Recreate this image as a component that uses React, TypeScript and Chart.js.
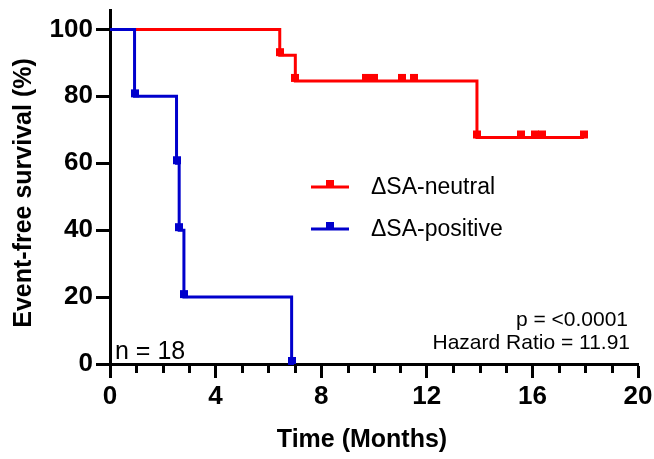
import React, { useEffect, useRef } from "react";
import { Chart, registerables } from "chart.js";

Chart.register(...registerables);

// ---- data ----
const neutralTimes = [0, 6.43, 7.02, 9.7, 10.0, 11.07, 11.5, 13.9, 15.55, 16.1, 16.35, 17.95];
const neutralSurvival = [100, 92.3, 84.6, 84.6, 84.6, 84.6, 84.6, 67.7, 67.7, 67.7, 67.7, 67.7];
const positiveTimes = [0, 0.93, 2.52, 2.62, 2.8, 6.88];
const positiveSurvival = [100, 80, 60, 40, 20, 0];
const seriesLabels = ["\u0394SA-neutral", "\u0394SA-positive"];
const seriesColors = ["#FF0000", "#0000CC"];
const xTickValues = [0, 4, 8, 12, 16, 20];
const yTickValues = [0, 20, 40, 60, 80, 100];
const minorTickMonths = [1, 2, 3, 5, 6, 7, 9, 10, 11, 13, 14, 15, 17, 18, 19];
const xTitle = "Time (Months)";
const yTitle = "Event-free survival (%)";
const statLines = ["p = <0.0001", "Hazard Ratio = 11.91"];
const sampleNote = "n = 18";

const FONT = "'Liberation Sans', Arial, Helvetica, sans-serif";

function makeMarker(color: string): HTMLCanvasElement {
  const c = document.createElement("canvas");
  c.width = 8;
  c.height = 16;
  const g = c.getContext("2d")!;
  g.fillStyle = color;
  g.fillRect(0, 1, 8, 8);
  return c;
}

export default function App() {
  const ref = useRef<HTMLCanvasElement | null>(null);

  useEffect(() => {
    if (!ref.current) return;
    const markers = seriesColors.map(makeMarker);

    const overlay = {
      id: "overlay",
      afterDatasetsDraw(chart: any) {
        const ctx = chart.ctx as CanvasRenderingContext2D;
        const xs = chart.scales.x;
        const bottom = chart.chartArea.bottom;
        ctx.save();
        // minor ticks
        ctx.strokeStyle = "#000";
        ctx.lineWidth = 3;
        minorTickMonths.forEach((m) => {
          const px = Math.round(xs.getPixelForValue(m)) + 0.5;
          ctx.beginPath();
          ctx.moveTo(px, bottom);
          ctx.lineTo(px, bottom + 9);
          ctx.stroke();
        });
        // x title
        ctx.fillStyle = "#000";
        ctx.font = `bold 25px ${FONT}`;
        ctx.textAlign = "center";
        ctx.textBaseline = "middle";
        ctx.fillText(xTitle, 362, 440);
        // y title
        ctx.save();
        ctx.translate(24, (chart.chartArea.top + bottom) / 2 + 6);
        ctx.rotate(-Math.PI / 2);
        ctx.font = `bold 25px ${FONT}`;
        ctx.fillText(yTitle, 0, 0);
        ctx.restore();
        // legend
        seriesLabels.forEach((label, i) => {
          const y = 187 + i * 42;
          ctx.strokeStyle = seriesColors[i];
          ctx.lineWidth = 3;
          ctx.beginPath();
          ctx.moveTo(311, y);
          ctx.lineTo(349, y);
          ctx.stroke();
          ctx.drawImage(markers[i], 330 - 4, y - 8);
          ctx.fillStyle = "#000";
          ctx.font = `23px ${FONT}`;
          ctx.textAlign = "left";
          ctx.textBaseline = "middle";
          ctx.fillText(label, 371, y + 1);
        });
        // stats
        ctx.fillStyle = "#000";
        ctx.font = `21px ${FONT}`;
        ctx.textAlign = "right";
        ctx.textBaseline = "middle";
        ctx.fillText(statLines[0], 628, 320);
        ctx.fillText(statLines[1], 630, 343);
        ctx.font = `25px ${FONT}`;
        ctx.textAlign = "left";
        ctx.textBaseline = "alphabetic";
        ctx.fillText(sampleNote, 115, 359);
        ctx.restore();
      },
    };

    const mk = (times: number[], surv: number[], i: number, order: number) => ({
      label: seriesLabels[i],
      data: times.map((t, k) => ({ x: t, y: surv[k] })),
      borderColor: seriesColors[i],
      backgroundColor: seriesColors[i],
      borderWidth: 3,
      stepped: "before" as const,
      tension: 0,
      fill: false,
      order,
      clip: 12,
      pointStyle: markers[i],
      pointRadius: (c: any) => (c.dataIndex === 0 ? 0 : 4),
      pointHoverRadius: 0,
    });

    const chart = new Chart(ref.current, {
      type: "line",
      data: {
        datasets: [
          mk(neutralTimes, neutralSurvival, 0, 2),
          mk(positiveTimes, positiveSurvival, 1, 1),
        ] as any,
      },
      options: {
        animation: false,
        responsive: false,
        devicePixelRatio: 1,
        layout: { padding: { top: 10, right: 16, left: 0, bottom: 0 } },
        plugins: { legend: { display: false }, tooltip: { enabled: false } },
        scales: {
          x: {
            type: "linear",
            min: 0,
            max: 20,
            afterBuildTicks: (s: any) => {
              s.ticks = xTickValues.map((v) => ({ value: v }));
            },
            afterFit: (s: any) => {
              s.height = 95;
              s.paddingLeft = 0;
              s.paddingRight = 0;
            },
            grid: { drawOnChartArea: false, drawTicks: true, tickLength: 14, tickWidth: 3, tickColor: "#000" },
            border: { display: true, width: 3, color: "#000" },
            ticks: { color: "#000", font: { family: FONT, size: 26, weight: "bold" }, padding: 3, maxRotation: 0 },
            title: { display: false },
          },
          y: {
            type: "linear",
            min: 0,
            max: 105.8,
            afterBuildTicks: (s: any) => {
              s.ticks = yTickValues.map((v) => ({ value: v }));
            },
            afterFit: (s: any) => {
              s.width = 110;
              s.paddingTop = 0;
              s.paddingBottom = 0;
            },
            grid: { drawOnChartArea: false, drawTicks: true, tickLength: 14, tickWidth: 3, tickColor: "#000" },
            border: { display: true, width: 3, color: "#000" },
            ticks: { color: "#000", font: { family: FONT, size: 26, weight: "bold" }, padding: 3 },
            title: { display: false },
          },
        },
      },
      plugins: [overlay],
    } as any);
    return () => chart.destroy();
  }, []);

  return (
    <div style={{ position: "fixed", left: 0, top: 0, width: 654, height: 459, background: "#fff" }}>
      <canvas ref={ref} width={654} height={459} />
    </div>
  );
}
